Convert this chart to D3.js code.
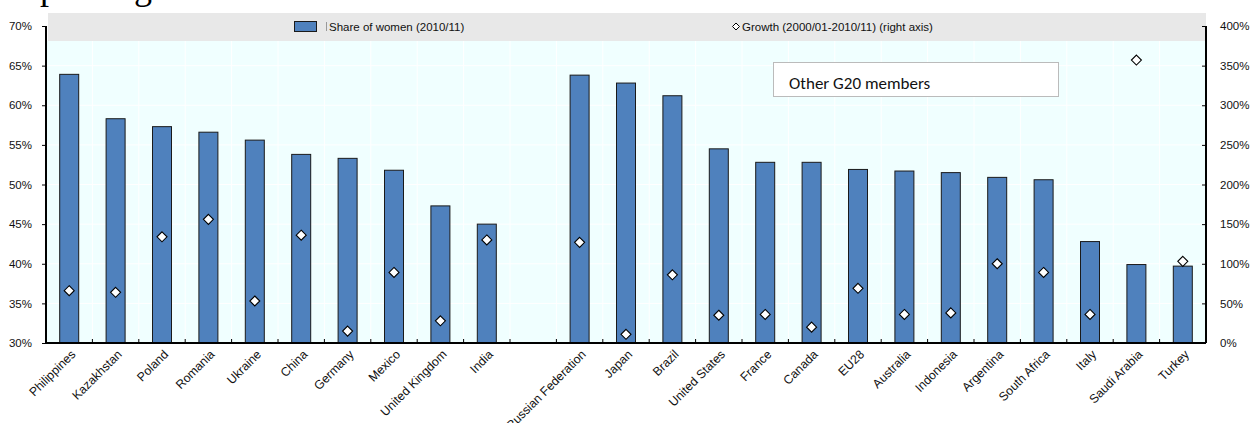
<!DOCTYPE html>
<html><head><meta charset="utf-8">
<script src="https://cdn.jsdelivr.net/npm/d3@7"></script>
<style>body{margin:0;background:#fff;}svg{display:block;}</style>
</head><body>
<svg id="c" width="1250" height="423"></svg>
<script>
const categories = ["Philippines","Kazakhstan","Poland","Romania","Ukraine","China","Germany","Mexico","United Kingdom","India","",
  "Russian Federation","Japan","Brazil","United States","France","Canada","EU28","Australia","Indonesia","Argentina","South Africa","Italy","Saudi Arabia","Turkey"];
const shareWomen = [63.9,58.3,57.3,56.6,55.6,53.8,53.3,51.8,47.3,45.0,null,
  63.8,62.8,61.2,54.5,52.8,52.8,51.9,51.7,51.5,50.9,50.6,42.8,39.9,39.7];
const growth = [66,64,134,156,53,136,15,89,28,130,null,
  127,11,86,35,36,20,69,36,38,100,89,36,357,103];
const leftTicks = [30,35,40,45,50,55,60,65,70];
const rightTicks = [0,50,100,150,200,250,300,350,400];
const legendLabels = ["Share of women (2010/11)","Growth (2000/01-2010/11) (right axis)"];
const boxLabel = "Other G20 members";

const svg = d3.select("#c");
const L=46, R=1206, T=26, B=343;
const x = d3.scaleBand().domain(d3.range(categories.length)).range([L,R]).padding(0);
const yL = d3.scaleLinear().domain([30,70]).range([B,T]);
const yR = d3.scaleLinear().domain([0,400]).range([B,T]);
const font = "'Liberation Sans', Arial, sans-serif";
const diamond = r => `M0,${-r}L${r},0L0,${r}L${-r},0Z`;

// cut-off title fragment
svg.append("text").attr("x",40).attr("y",-1).attr("font-family","'Liberation Serif', 'Times New Roman', serif")
  .attr("font-size",36).attr("letter-spacing",4).attr("fill","#000").text("paring");

// plot background
svg.append("rect").attr("x",L).attr("y",41).attr("width",R-L).attr("height",B-41).attr("fill","#f0ffff");
// grid
svg.append("g").selectAll("line").data(leftTicks).join("line")
  .attr("x1",L).attr("x2",R).attr("y1",d=>yL(d)).attr("y2",d=>yL(d)).attr("stroke","#fff").attr("stroke-width",1);
svg.append("g").selectAll("line").data(d3.range(1,categories.length)).join("line")
  .attr("x1",d=>x(d)).attr("x2",d=>x(d)).attr("y1",T).attr("y2",B).attr("stroke","#fff").attr("stroke-width",1);

// legend band
svg.append("rect").attr("x",48).attr("y",13).attr("width",R-48).attr("height",28).attr("fill","#e8e8e8");
svg.append("rect").attr("x",294.5).attr("y",21.5).attr("width",22).attr("height",10).attr("fill","#4f81bd").attr("stroke","#1a1a1a");
svg.append("line").attr("x1",326.5).attr("x2",326.5).attr("y1",22).attr("y2",31).attr("stroke","#999");
svg.append("text").attr("x",329).attr("y",30.5).attr("font-family",font).attr("font-size",11.5).attr("fill","#111").text(legendLabels[0]);
svg.append("path").attr("d",diamond(3.5)).attr("transform","translate(736,26.5)")
  .attr("fill","#fff").attr("stroke","#000").attr("stroke-width",1);
svg.append("text").attr("x",742).attr("y",30.5).attr("font-family",font).attr("font-size",11.5).attr("fill","#111").text(legendLabels[1]);

// bars
const bw = 19;
svg.append("g").selectAll("rect").data(shareWomen.map((v,i)=>({v,i})).filter(d=>d.v!==null)).join("rect")
  .attr("x",d=>x(d.i)+x.bandwidth()/2-bw/2).attr("width",bw)
  .attr("y",d=>yL(d.v)).attr("height",d=>B-yL(d.v))
  .attr("fill","#4f81bd").attr("stroke","#1a1a1a").attr("stroke-width",1);

// diamonds
svg.append("g").selectAll("path").data(growth.map((v,i)=>({v,i})).filter(d=>d.v!==null)).join("path")
  .attr("d",diamond(5))
  .attr("transform",d=>`translate(${x(d.i)+x.bandwidth()/2},${yR(d.v)})`)
  .attr("fill","#fff").attr("stroke","#000").attr("stroke-width",1.1);

// box
svg.append("rect").attr("x",773.5).attr("y",62.5).attr("width",285).attr("height",34).attr("fill","#fff").attr("stroke","#bbb");
svg.append("text").attr("x",789).attr("y",89).attr("font-family","Carlito, Calibri, 'Open Sans', sans-serif").attr("font-size",17).attr("fill","#111").text(boxLabel);

// axes
const axL = svg.append("g").attr("transform",`translate(${L},0)`)
  .call(d3.axisLeft(yL).tickValues(leftTicks).tickFormat(d=>d+"%").tickSize(4).tickPadding(10));
const axR = svg.append("g").attr("transform",`translate(${R},0)`)
  .call(d3.axisRight(yR).tickValues(rightTicks).tickFormat(d=>d+"%").tickSizeInner(-4).tickSizeOuter(0).tickPadding(14));
[axL,axR].forEach(a=>{
  a.select(".domain").attr("stroke","#000").attr("stroke-width",2);
  a.selectAll("text").attr("font-family",font).attr("font-size",11.5).attr("fill","#111");
});
axL.select(".domain").attr("d",`M0,${T}V${B}`);
axR.select(".domain").attr("d",`M0,${T}V${B}`);

// x axis
const xa = svg.append("g").attr("transform",`translate(0,${B})`);
xa.append("line").attr("x1",L).attr("x2",R).attr("stroke","#000").attr("stroke-width",2);
xa.selectAll("line.t").data(d3.range(1,categories.length)).join("line").attr("class","t")
  .attr("x1",d=>x(d)).attr("x2",d=>x(d)).attr("y1",0).attr("y2",-4).attr("stroke","#000");
xa.selectAll("text").data(categories.map((c,i)=>({c,i}))).join("text")
  .attr("transform",d=>`translate(${x(d.i)+x.bandwidth()/2+4},${9}) rotate(-45)`)
  .attr("text-anchor","end").attr("font-family",font).attr("font-size",12.3).attr("fill","#111")
  .attr("dy","0.35em").text(d=>d.c);
</script>
</body></html>
